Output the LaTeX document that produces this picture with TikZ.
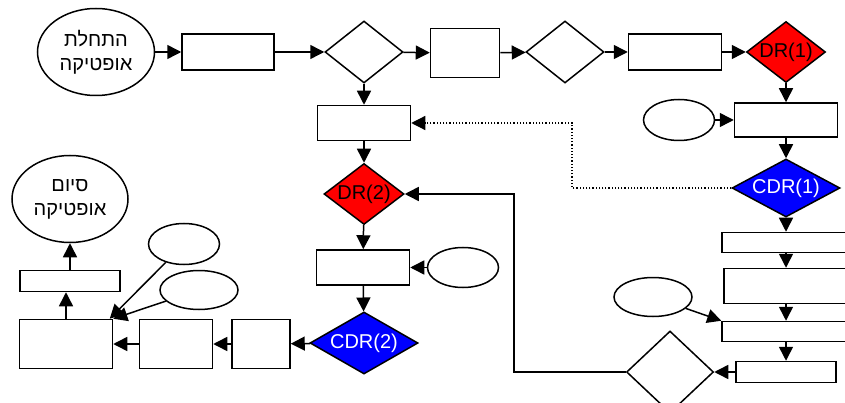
\documentclass[tikz,border=0pt]{standalone}
\usepackage{fontspec}
\setmainfont{Liberation Sans}
\newfontfamily\hebfont[Script=Hebrew]{Liberation Sans}
\TeXXeTstate=1
\usepackage{tikz}
\usetikzlibrary{arrows.meta}
\usetikzlibrary{shapes.geometric}
\tikzset{>={Triangle[length=14pt,width=14pt]}}
\tikzstyle{box} = [rectangle, draw, fill=white, inner sep=0pt]
\tikzstyle{decision} = [diamond, draw, fill=white, inner sep=0pt,
    font=\fontsize{20}{24}\selectfont]
\tikzstyle{oval} = [ellipse, draw, fill=white, inner sep=0pt, align=center,
    font=\hebfont\fontsize{20}{24}\selectfont]

\begin{document}
\begin{tikzpicture}[x=1pt, y=-1pt, line width=1.5pt]
\useasboundingbox (0,0) rectangle (845,403);
    %top row
    \node[oval, minimum width=117pt, minimum height=87pt] (start) at (96,52)
        {\beginR התחלת\endR\\\beginR אופטיקה\endR};
    \node[box, minimum width=92pt, minimum height=36pt] (b1) at (228,52) {};
    \node[decision, minimum width=78pt, minimum height=62pt] (d1) at (364,52) {};
    \node[box, minimum width=69pt, minimum height=49pt] (b2) at (465,53) {};
    \node[decision, minimum width=78pt, minimum height=62pt] (d2) at (565,52) {};
    \node[box, minimum width=93pt, minimum height=36pt] (b4) at (675,52) {};
    \node[decision, fill=red, aspect=1.35, minimum width=79pt, minimum height=61pt] (dr1) at (786,52) {DR(1)};
    %right column
    \node[box, minimum width=103pt, minimum height=34pt] (b5) at (786,120) {};
    \node[oval, minimum width=71pt, minimum height=41pt] (e1) at (679,120) {};
    \node[decision, fill=blue, text=white, aspect=1.85, minimum width=108pt, minimum height=58pt] (cdr1) at (786,188) {CDR(1)};
    \node[box, minimum width=128pt, minimum height=20pt] (b6) at (786,242.5) {};
    \node[box, minimum width=124pt, minimum height=35pt] (b7) at (786,286) {};
    \node[box, minimum width=128pt, minimum height=20pt] (b8) at (786,331.5) {};
    \node[oval, minimum width=78pt, minimum height=39pt] (e2) at (653,297) {};
    \node[box, minimum width=100pt, minimum height=21pt] (b9) at (786,372) {};
    \node[decision, minimum width=87pt, minimum height=82pt] (d3) at (670,372) {};
    \coordinate (turn1) at (514,372);
    \coordinate (turn2) at (572,188);
    %middle column
    \node[box, minimum width=93pt, minimum height=35pt] (b3) at (364,123) {};
    \node[decision, fill=red, aspect=1.35, minimum width=80pt, minimum height=61pt] (dr2) at (364,194) {DR(2)};
    \node[box, minimum width=93pt, minimum height=35pt] (b10) at (363,267.5) {};
    \node[oval, minimum width=71pt, minimum height=40pt] (e3) at (463,267.5) {};
    \node[decision, fill=blue, text=white, aspect=1.85, minimum width=108pt, minimum height=62pt] (cdr2) at (364,343) {CDR(2)};
    %bottom left
    \node[box, minimum width=58pt, minimum height=49pt] (b11) at (261,344) {};
    \node[box, minimum width=73pt, minimum height=49pt] (b12) at (176,344) {};
    \node[box, minimum width=93pt, minimum height=49pt] (b13) at (66,344) {};
    \node[box, minimum width=100pt, minimum height=21pt] (b14) at (70,281) {};
    \node[oval, minimum width=116pt, minimum height=87pt] (finish) at (70,199)
        {\beginR סיום\endR\\\beginR אופטיקה\endR};
    \node[oval, minimum width=71pt, minimum height=41pt] (e4) at (184,244) {};
    \node[oval, minimum width=78pt, minimum height=39pt] (e5) at (199,290) {};
    %arrows
    \draw[->] (start) -- (b1);
    \draw[->] (b1) -- (d1);
    \draw[->] (d1) -- (b2);
    \draw[->] (b2) -- (d2);
    \draw[->] (d2) -- (b4);
    \draw[->] (b4) -- (dr1);
    \draw[->] (dr1) -- (b5);
    \draw[->] (e1) -- (b5);
    \draw[->] (b5) -- (cdr1);
    \draw[->] (cdr1) -- (b6);
    \draw[->] (b6) -- (b7);
    \draw[->] (b7) -- (b8);
    \draw[->] (e2) -- (b8.north west);
    \draw[->] (b8) -- (b9);
    \draw[->] (b9) -- (d3);
    \draw[->] (d3) -- (turn1) |- (dr2);
    \draw[->, dotted, line width=1.2pt] (cdr1) -- (turn2) |- (b3);
    \draw[->] (d1) -- (b3);
    \draw[->] (b3) -- (dr2);
    \draw[->] (dr2) -- (b10);
    \draw[->] (e3) -- (b10);
    \draw[->] (b10) -- (cdr2);
    \draw[->] (cdr2) -- (b11);
    \draw[->] (b11) -- (b12);
    \draw[->] (b12) -- (b13);
    \draw[->] (b13.north) -- (b13.north |- b14.south);
    \draw[->] (b14) -- (finish);
    \draw[->] (e4) -- (b13.30);
    \draw[->] (e5) -- (b13.north east);
\end{tikzpicture}
\end{document}
